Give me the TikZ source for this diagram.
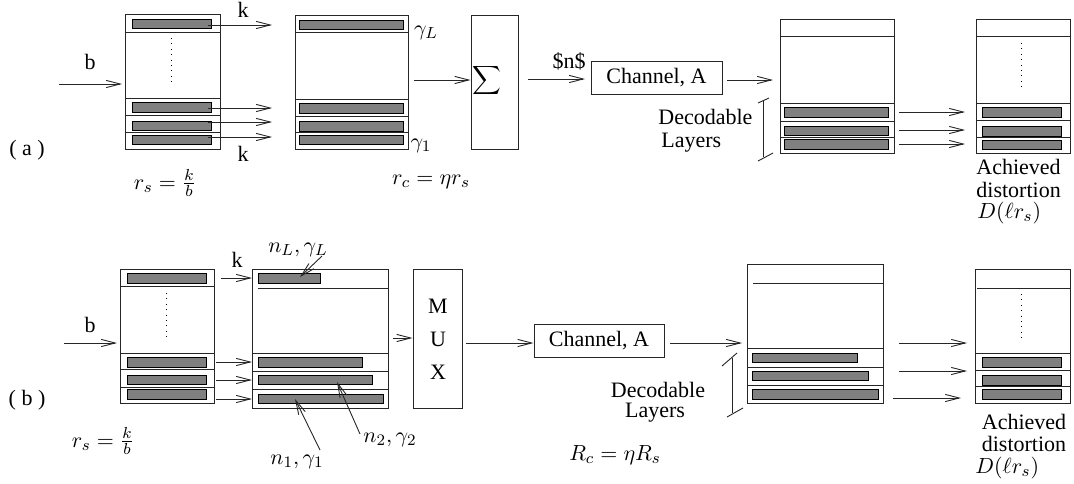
\documentclass[tikz,border=0pt]{standalone}
\usepackage{fontspec}
\setmainfont{Liberation Serif}
\usetikzlibrary{arrows.meta}
\begin{document}
\begin{tikzpicture}[x=0.5pt,y=-0.5pt,
  every node/.style={inner sep=0pt,font=\fontsize{11}{13.2}\selectfont},
  box/.style={draw=black!85,line width=0.5pt},
  sep/.style={draw=black!85,line width=0.5pt},
  bar/.style={draw=black,fill=black!50,line width=0.5pt},
  arr/.style={draw=black!85,line width=0.45pt,-{Straight Barb[length=7pt,width=3.6pt]}},
  thin/.style={draw=black!85,line width=0.45pt},
  vdots/.style={draw=black,line width=0.5pt,dash pattern=on 0.5pt off 2.2pt},
  lbl/.style={anchor=west}]
\useasboundingbox (0,0) rectangle (1074,483);

%%%%%%%%%%%%%%%% (a) %%%%%%%%%%%%%%%%
% source box A1
\draw[box] (125,14) rectangle (220,149);
\foreach \y in {32,98,115,132} \draw[sep] (125,\y) -- (220,\y);
\foreach \a/\b in {19/28,102/112,121/130,135/144} \draw[bar] (132,\a) rectangle (211,\b);
\draw[vdots] (171,38) -- (171,84);
\coordinate (bina) at (59,84); \coordinate (bouta) at (122,84);
\draw[arr] (bina) -- (bouta);
\node (lba) at (90,62) {b};
\foreach \y [count=\i] in {25,108,122,137} {
  \coordinate (as\i) at (208,\y); \coordinate (ae\i) at (272,\y);
  \draw[arr] (as\i) -- (ae\i);}
\node (ka1) at (243,10) {k};
\node (ka2) at (243,154) {k};
\node (la) at (27,150) {( a )};
\node (rsa) at (165,183) {$r_s = \frac{k}{b}$};

% A2
\draw[box] (295,15) rectangle (408,149);
\foreach \y in {32,99,116,132} \draw[sep] (295,\y) -- (408,\y);
\foreach \a/\b in {20/29,103/113,121/131,135/144} \draw[bar] (299,\a) rectangle (403,\b);
\node (gL) at (426,33) {$\gamma_L$};
\node (g1) at (421,146) {$\gamma_1$};
\node (rca) at (431,182) {$r_c = \eta r_s$};

% Sigma
\node[box,minimum width=23.5pt,minimum height=67pt] (sig) at (494.5,82) {};
\node (sigs) at (487,80) {$\displaystyle\sum$};
\coordinate (a2out) at (414,80);
\draw[arr] (a2out) -- (sig.west |- a2out);
\node[box,minimum width=65.5pt,minimum height=16.5pt] (cha) at (656.5,77.5) {Channel,\ A};
\coordinate (sigo) at (528,79); \coordinate (chai) at (585,79);
\draw[arr] (sigo) -- (chai);
\node (na) at (569,61) {\$n\$};
\coordinate (chao) at (727,80); \coordinate (r1ai) at (773,80);
\draw[arr] (chao) -- (r1ai);

% R1a
\draw[box] (780,19) rectangle (894,153);
\foreach \y in {36,103,121,137} \draw[sep] (780,\y) -- (894,\y);
\foreach \a/\b in {107/117,126/135,139/149} \draw[bar] (784,\a) rectangle (888,\b);
\draw[thin] (763,100) -- (763,157);
\draw[thin] (758,103) -- (769,98);
\draw[thin] (758,161) -- (773,153);
\node[lbl] (deca) at (658,117) {Decodable};
\node[lbl] (laya) at (661,143) {Layers};
\foreach \y [count=\i] in {112,130,144} {
  \coordinate (rs\i) at (899,\y); \coordinate (re\i) at (965,\y);
  \draw[arr] (rs\i) -- (re\i);}

% R2a
\draw[box] (976,19) rectangle (1070,153);
\foreach \y in {36,103,120,137} \draw[sep] (976,\y) -- (1070,\y);
\foreach \a/\b in {107/117,126/136,140/149} \draw[bar] (982,\a) rectangle (1061,\b);
\draw[vdots] (1021,43) -- (1021,89);
\node[lbl] (ach1) at (976,167) {Achieved};
\node[lbl] (dis1) at (976,190) {distortion};
\node[lbl] (D1) at (977,213) {$D(\ell r_s)$};

%%%%%%%%%%%%%%%% (b) %%%%%%%%%%%%%%%%
% B1
\draw[box] (120,269) rectangle (214,403);
\foreach \y in {286,353,369,387} \draw[sep] (120,\y) -- (214,\y);
\foreach \a/\b in {273/283,357/367,375/384,389/399} \draw[bar] (127,\a) rectangle (206,\b);
\draw[vdots] (166,293) -- (166,339);
\coordinate (binb) at (64,343); \coordinate (boutb) at (117,343);
\draw[arr] (binb) -- (boutb);
\node (lbb) at (90,325) {b};
\node (lb) at (27,400) {( b )};
\node (rsb) at (103,441) {$r_s = \frac{k}{b}$};
\coordinate (bs1) at (221,278); \coordinate (be1) at (252,278);
\draw[arr] (bs1) -- (be1);
\node (kb) at (237,260) {k};
\foreach \y [count=\i from 2] in {362,380,399} {
  \coordinate (bs\i) at (216,\y); \coordinate (be\i) at (252,\y);
  \draw[arr] (bs\i) -- (be\i);}

% B2
\draw[box] (252,269) rectangle (388,408);
\draw[sep] (258,288) -- (388,288);
\foreach \y in {353,371,389} \draw[sep] (252,\y) -- (388,\y);
\draw[bar] (258,273) rectangle (320,283);
\draw[bar] (258,357) rectangle (362,367);
\draw[bar] (258,375) rectangle (372,384);
\draw[bar] (258,394) rectangle (383,403);
\node (nL) at (298,250) {$n_L, \gamma_L$};
\coordinate (nLs) at (322,256); \coordinate (nLe) at (300,277);
\draw[arr] (nLs) -- (nLe);
\node (n1) at (297,462) {$n_1, \gamma_1$};
\coordinate (n1s) at (320,450); \coordinate (n1e) at (295,399);
\draw[arr] (n1s) -- (n1e);
\node (n2) at (390,440) {$n_2, \gamma_2$};
\coordinate (n2s) at (360,434); \coordinate (n2e) at (337,382);
\draw[arr] (n2s) -- (n2e);

% MUX
\node[box,minimum width=24.5pt,minimum height=69.5pt] (mux) at (437.5,338.5) {};
\node (M) at (438,306) {M};
\node (U) at (438,339) {U};
\node (X) at (438,372) {X};
\coordinate (b2o) at (393,338);
\draw[arr] (b2o) -- (mux.west |- b2o);
\node[box,minimum width=65pt,minimum height=16.5pt] (chb) at (599,340.5) {Channel,\ A};
\coordinate (muxo) at (466,343);
\draw[arr] (muxo) -- (chb.west |- muxo);
\node (Rc) at (615,455) {$R_c = \eta R_s$};
\coordinate (chbo) at (670,343); \coordinate (r1bi) at (742,343);
\draw[arr] (chbo) -- (r1bi);

% R1b
\draw[box] (747,264) rectangle (883,403);
\draw[sep] (753,283) -- (883,283);
\foreach \y in {348,367,385} \draw[sep] (747,\y) -- (883,\y);
\draw[bar] (752,353) rectangle (857,362);
\draw[bar] (752,371) rectangle (868,380);
\draw[bar] (752,389) rectangle (878,399);
\draw[thin] (732,358) -- (732,413);
\draw[thin] (722,366) -- (737,353);
\draw[thin] (727,417) -- (743,408);
\node (decb) at (658,390) {Decodable};
\node (layb) at (655,413) {Layers};
\coordinate (ts1) at (899,343); \coordinate (te1) at (967,343);
\coordinate (ts2) at (899,371); \coordinate (te2) at (967,371);
\coordinate (ts3) at (893,398); \coordinate (te3) at (961,398);
\foreach \i in {1,2,3} \draw[arr] (ts\i) -- (te\i);

% R2b
\draw[box] (975,269) rectangle (1070,403);
\draw[sep] (977,288) -- (1070,288);
\foreach \y in {353,370,386} \draw[sep] (975,\y) -- (1070,\y);
\foreach \a/\b in {357/367,375/385,389/399} \draw[bar] (982,\a) rectangle (1061,\b);
\draw[vdots] (1021,294) -- (1021,340);
\node (ach2) at (1024,422) {Achieved};
\node (dis2) at (1024,444) {distortion};
\node[lbl] (D2) at (975,468) {$D(\ell r_s)$};
\end{tikzpicture}
\end{document}
